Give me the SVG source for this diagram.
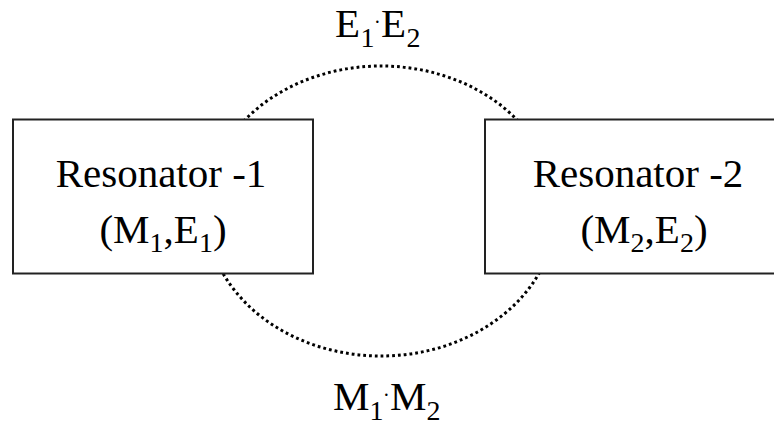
<svg xmlns="http://www.w3.org/2000/svg" width="774" height="426" viewBox="0 0 774 426">
<style>
.box{fill:#fff;stroke:#222;stroke-width:2}
.t{font-family:"Liberation Serif","Times New Roman",serif;font-size:41px;fill:#000}
.sub{font-size:28px}
.dot{font-size:20px}
.link{fill:none;stroke:#000;stroke-width:3;stroke-dasharray:2.8 3}
</style>
<rect width="774" height="426" fill="#fff"/>
<g id="connectors">
<ellipse class="link" cx="381" cy="211" rx="175" ry="145"/>
<text class="t" id="label-top"><tspan x="335" y="37">E</tspan><tspan class="sub" x="360.5" y="47">1</tspan><tspan class="dot" x="374" y="29">·</tspan><tspan x="381" y="37">E</tspan><tspan class="sub" x="406.5" y="47">2</tspan></text>
<text class="t" id="label-bottom"><tspan x="333" y="410">M</tspan><tspan class="sub" x="369.5" y="420">1</tspan><tspan class="dot" x="383" y="402">·</tspan><tspan x="390" y="410">M</tspan><tspan class="sub" x="426.5" y="420">2</tspan></text>
</g>
<g id="resonator1">
<rect class="box" x="13" y="119.5" width="300" height="154"/>
<text class="t" x="161" y="187" text-anchor="middle">Resonator -1</text>
<text class="t" x="163" y="243" text-anchor="middle">(M<tspan class="sub" dy="9">1</tspan><tspan dy="-9">,E</tspan><tspan class="sub" dy="9">1</tspan><tspan dy="-9">)</tspan></text>
</g>
<g id="resonator2">
<rect class="box" x="485" y="119.5" width="305" height="154"/>
<text class="t" x="638" y="187" text-anchor="middle">Resonator -2</text>
<text class="t" x="644" y="243" text-anchor="middle">(M<tspan class="sub" dy="9">2</tspan><tspan dy="-9">,E</tspan><tspan class="sub" dy="9">2</tspan><tspan dy="-9">)</tspan></text>
</g>
</svg>
